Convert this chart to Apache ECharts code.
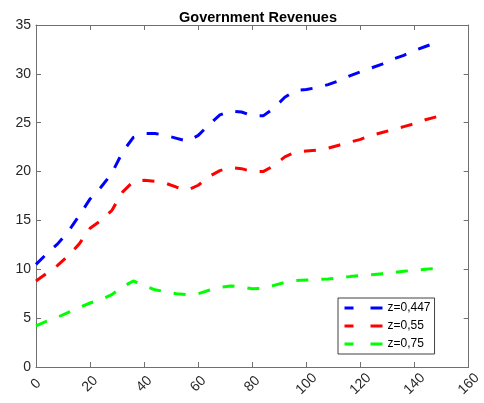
<!DOCTYPE html>
<html>
<head>
<meta charset="utf-8">
<script src="https://cdn.jsdelivr.net/npm/echarts@6/dist/echarts.min.js"></script>
<style>
  html, body { margin: 0; padding: 0; background: #fff; }
  #chart { width: 484px; height: 403px; }
</style>
</head>
<body>
<div id="chart"></div>
<script>
// Time index of each observation
const periods = [0, 4, 8, 12, 16, 20, 24, 28, 32, 36, 40, 44, 48, 52, 56, 60, 64, 68, 72,
  76, 80, 84, 88, 92, 96, 100, 104, 108, 112, 116, 120, 124, 128, 132, 136, 140, 144, 148];

// Revenue paths for each z value
const revZ0447 = [10.5, 11.6, 12.6, 13.9, 15.5, 17.2, 18.4, 19.8, 22.0, 23.5, 23.9, 23.9, 23.7,
  23.4, 23.1, 23.7, 24.8, 25.8, 26.2, 26.1, 25.7, 25.7, 26.5, 27.6, 28.3, 28.4, 28.6, 28.9,
  29.3, 29.8, 30.2, 30.6, 31.0, 31.5, 31.9, 32.4, 32.8, 33.2];
const revZ055 = [8.8, 9.6, 10.4, 11.4, 12.6, 14.2, 15.0, 16.0, 17.9, 19.0, 19.1, 19.0, 18.8,
  18.4, 18.1, 18.6, 19.5, 20.1, 20.4, 20.3, 20.0, 20.0, 20.6, 21.5, 22.0, 22.1, 22.2, 22.4,
  22.7, 23.0, 23.3, 23.7, 24.0, 24.3, 24.6, 24.9, 25.3, 25.6];
const revZ075 = [4.2, 4.7, 5.1, 5.6, 6.1, 6.55, 6.9, 7.4, 8.2, 8.8, 8.35, 7.9, 7.7, 7.5, 7.4,
  7.5, 7.85, 8.15, 8.3, 8.2, 8.0, 8.05, 8.35, 8.65, 8.85, 8.9, 8.95, 9.0, 9.1, 9.25, 9.35,
  9.45, 9.55, 9.65, 9.8, 9.9, 10.0, 10.1];

const seriesNames = ['z=0,447', 'z=0,55', 'z=0,75'];
const seriesValues = [revZ0447, revZ055, revZ075];
const seriesColors = ['#0000ff', '#ff0000', '#00ff00'];

const axisGray = '#707070';
const textGray = '#262626';
const fontFam = '"Liberation Sans", Arial, Helvetica, sans-serif';

const chart = echarts.init(document.getElementById('chart'), null, { renderer: 'canvas' });

function baseX(pos, labels) {
  return {
    type: 'value', position: pos, min: 0, max: 160, interval: 20,
    axisLine: { show: true, onZero: false, lineStyle: { color: axisGray, width: 1 } },
    axisTick: { show: true, inside: true, length: 5, lineStyle: { color: axisGray } },
    axisLabel: labels ? {
      show: true, rotate: 45, align: 'center', verticalAlign: 'middle', margin: 17,
      fontSize: 14, color: textGray, fontFamily: fontFam
    } : { show: false },
    splitLine: { show: false }
  };
}
function baseY(pos, labels) {
  return {
    type: 'value', position: pos, min: 0, max: 35, interval: 5,
    axisLine: { show: true, onZero: false, lineStyle: { color: axisGray, width: 1 } },
    axisTick: { show: true, inside: true, length: 5, lineStyle: { color: axisGray } },
    axisLabel: labels ? {
      show: true, margin: 5, fontSize: 14, color: textGray, fontFamily: fontFam
    } : { show: false },
    splitLine: { show: false }
  };
}

chart.setOption({
  backgroundColor: '#ffffff',
  animation: false,
  title: {
    text: 'Government Revenues',
    left: 253, top: 5, textAlign: 'center',
    textStyle: { fontSize: 14.5, fontWeight: 'bold', color: '#000', fontFamily: fontFam }
  },
  grid: { left: 36, right: 14, top: 25, bottom: 36, containLabel: false },
  xAxis: [baseX('bottom', true), baseX('top', false)],
  yAxis: [baseY('left', true), baseY('right', false)],
  legend: {
    orient: 'vertical', left: 338, top: 298,
    padding: [4, 4, 4, 5], itemGap: 6, itemWidth: 38, itemHeight: 10,
    backgroundColor: '#fff', borderColor: '#404040', borderWidth: 1,
    textStyle: { fontSize: 12, color: '#000', fontFamily: fontFam },
    itemStyle: { opacity: 0 },
    lineStyle: { type: [9, 17, 14, 100], width: 3 },
    data: seriesNames
  },
  series: seriesNames.map((name, i) => ({
    name: name,
    type: 'line',
    xAxisIndex: 0, yAxisIndex: 0,
    data: periods.map((p, j) => [p, seriesValues[i][j]]),
    showSymbol: false, symbol: 'none',
    smooth: false,
    lineStyle: { color: seriesColors[i], width: 3, type: [12, 13] },
    itemStyle: { color: seriesColors[i] }
  }))
});
</script>
</body>
</html>
